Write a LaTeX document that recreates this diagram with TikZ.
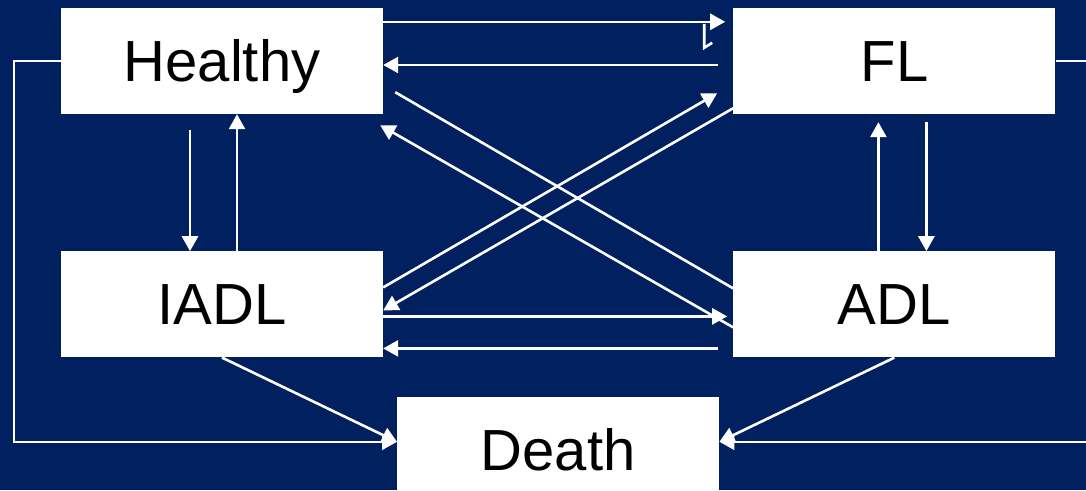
\documentclass[tikz,border=0pt]{standalone}
\usepackage{fontspec}
\setmainfont{Liberation Sans}
\usetikzlibrary{arrows.meta, positioning, calc}
\definecolor{navy}{RGB}{0,32,96}
\tikzset{
        flow/.style={draw=white, line width=2.6pt, -{Triangle[length=15pt,width=16pt]}}, % arrows between states
        plain line/.style={draw=white, line width=2.6pt},
        state box/.style={
		fill=white,
		minimum width=322pt,
		minimum height=106pt,
		inner sep=0pt,
		text height=41pt,
		text depth=0pt,
		font=\fontsize{58}{60}\selectfont,
	  }
  	}
\begin{document}
\begin{tikzpicture}[x=1pt, y=-1pt]
    \fill[navy] (0,0) rectangle (1086,490);
    \useasboundingbox (0,0) rectangle (1086,490);
    \node [state box] at (222,61) (healthy) {Healthy};
    \node [state box, right=350pt of healthy] (fl) {FL};
    \node [state box, below=137pt of healthy] (iadl) {IADL};
    \node [state box, below=137pt of fl] (adl) {ADL};
    \node [state box, anchor=north] at ([yshift=-39pt]$(iadl.south)!0.5!(adl.south)$) (death) {Death};
    % top row
    \draw [flow] ([yshift=-14pt]healthy.north east) -- ([xshift=-8pt,yshift=-14pt]fl.north west);
    \draw [plain line] ([xshift=-29pt,yshift=-16pt]fl.north west) -- ([xshift=-29pt,yshift=-40pt]fl.north west) -- ([xshift=-21pt,yshift=-35pt]fl.north west);
    \draw [flow] ([xshift=-15pt,yshift=-4pt]fl.west) -- ([yshift=-4pt]healthy.east);
    % crossing lines
    \draw [plain line] ([xshift=12pt,yshift=22pt]healthy.south east) -- ([yshift=16pt]adl.west);
    \draw [flow] ([yshift=-23pt]adl.west) -- ([xshift=-3pt,yshift=-11pt]healthy.south east);
    \draw [flow] ([yshift=17pt]iadl.east) -- ([xshift=-16pt,yshift=21pt]fl.south west);
    \draw [flow] ([yshift=6pt]fl.south west) -- ([yshift=-6pt]iadl.east);
    % bottom row
    \draw [flow] ([yshift=-12pt]iadl.east) -- ([xshift=-6pt,yshift=-12pt]adl.west);
    \draw [flow] ([xshift=-15pt,yshift=-44pt]adl.west) -- ([yshift=-44pt]iadl.east);
    % verticals
    \draw [flow] ([xshift=-32pt,yshift=-16pt]healthy.south) -- ([xshift=-32pt]iadl.north);
    \draw [flow] ([xshift=15pt]iadl.north) -- ([xshift=15pt]healthy.south);
    \draw [flow] ([xshift=-16pt]adl.north) -- ([xshift=-16pt,yshift=-8pt]fl.south);
    \draw [flow] ([xshift=32pt,yshift=-8pt]fl.south) -- ([xshift=32pt]adl.north);
    % to death
    \draw [flow] (iadl.south) -- ([yshift=8pt]death.west);
    \draw [flow] (adl.south) -- ([yshift=8pt]death.east);
    \draw [flow] (healthy.west) -- ++(-47,0) |- ([yshift=8pt]death.west);
    \draw [flow] (fl.east) -- ++(50,0) |- ([yshift=8pt]death.east);
\end{tikzpicture}
\end{document}
